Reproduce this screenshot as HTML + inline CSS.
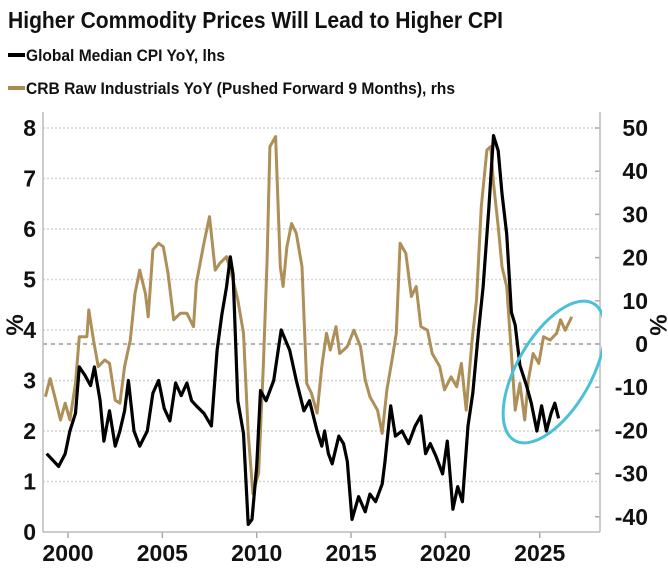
<!DOCTYPE html>
<html><head><meta charset="utf-8"><style>
html,body{margin:0;padding:0;background:#fff;}
svg{display:block;font-family:"Liberation Sans",sans-serif;}
</style></head><body>
<svg id="chart" width="668" height="575" viewBox="0 0 668 575">
<defs><clipPath id="plotclip"><rect x="0" y="100" width="602" height="440"/></clipPath></defs>
<text x="8" y="28" font-size="23" font-weight="bold" textLength="495" lengthAdjust="spacingAndGlyphs" fill="#111">Higher Commodity Prices Will Lead to Higher CPI</text>
<g>
<line x1="8" y1="55" x2="25" y2="55" stroke="#000" stroke-width="4"/>
<text x="26" y="61" font-size="17" font-weight="bold" textLength="199" lengthAdjust="spacingAndGlyphs" fill="#111">Global Median CPI YoY, lhs</text>
</g>
<g>
<line x1="8" y1="88" x2="25" y2="88" stroke="#a98a52" stroke-width="4"/>
<text x="26" y="94" font-size="17" font-weight="bold" textLength="429" lengthAdjust="spacingAndGlyphs" fill="#111">CRB Raw Industrials YoY (Pushed Forward 9 Months), rhs</text>
</g>
<g id="grid"></g>
<g id="axes"></g>
<g id="series"></g>
<g clip-path="url(#plotclip)">
<ellipse cx="554" cy="372" rx="79" ry="37" transform="rotate(-60 554 372)" fill="none" stroke="#4cc0d6" stroke-width="3"/>
</g>
</svg>
<script>
const cpiYears=[1998.87,1999.5,1999.85,2000.1,2000.4,2000.6,2000.9,2001.2,2001.4,2001.7,2001.9,2002.2,2002.5,2002.75,2003.0,2003.2,2003.5,2003.8,2004.2,2004.5,2004.8,2005.1,2005.4,2005.7,2006.0,2006.3,2006.55,2006.8,2007.2,2007.6,2007.9,2008.15,2008.4,2008.6,2008.75,2009.0,2009.3,2009.55,2009.75,2010.0,2010.2,2010.5,2010.9,2011.3,2011.75,2012.1,2012.5,2012.8,2013.2,2013.45,2013.6,2013.8,2014.0,2014.35,2014.6,2014.8,2015.05,2015.4,2015.75,2016.0,2016.3,2016.65,2016.8,2017.1,2017.35,2017.7,2018.05,2018.4,2018.7,2018.95,2019.2,2019.5,2019.85,2020.1,2020.4,2020.65,2020.9,2021.2,2021.45,2021.75,2022.0,2022.3,2022.55,2022.8,2023.0,2023.25,2023.5,2023.7,2023.95,2024.3,2024.55,2024.85,2025.1,2025.35,2025.6,2025.8,2026.0];
const cpiValues=[1.55,1.3,1.55,2.0,2.35,3.27,3.1,2.9,3.27,2.6,1.8,2.4,1.7,2.0,2.4,3.0,2.0,1.7,2.0,2.75,3.0,2.45,2.2,2.95,2.7,2.95,2.6,2.5,2.35,2.1,3.6,4.3,4.85,5.45,5.1,2.6,1.95,0.15,0.25,1.3,2.8,2.6,3.0,4.0,3.6,3.0,2.4,2.6,2.0,1.7,2.0,1.55,1.35,1.9,1.75,1.4,0.25,0.7,0.4,0.75,0.6,0.95,1.4,2.5,1.9,2.0,1.75,2.1,2.3,1.55,1.75,1.5,1.15,1.8,0.45,0.9,0.6,2.1,2.75,3.95,4.85,6.4,7.85,7.55,6.7,5.9,4.35,4.1,3.3,2.9,2.55,2.0,2.5,2.0,2.35,2.55,2.25];
const crbYears=[1998.8,1999.05,1999.3,1999.6,1999.85,2000.1,2000.4,2000.6,2001.0,2001.1,2001.35,2001.6,2001.95,2002.2,2002.5,2002.75,2003.0,2003.3,2003.55,2003.8,2004.1,2004.25,2004.5,2004.8,2005.05,2005.3,2005.6,2005.95,2006.3,2006.65,2006.8,2007.2,2007.5,2007.8,2008.05,2008.4,2008.75,2009.0,2009.3,2009.55,2009.8,2010.1,2010.35,2010.55,2010.7,2011.0,2011.25,2011.4,2011.6,2011.85,2012.1,2012.4,2012.65,2012.9,2013.2,2013.45,2013.7,2013.9,2014.2,2014.4,2014.8,2015.15,2015.5,2015.75,2016.0,2016.4,2016.65,2016.9,2017.2,2017.4,2017.6,2017.9,2018.2,2018.45,2018.7,2019.05,2019.3,2019.7,2019.95,2020.3,2020.6,2020.85,2021.1,2021.4,2021.65,2021.9,2022.2,2022.4,2022.55,2022.8,2023.0,2023.25,2023.5,2023.7,2023.95,2024.2,2024.4,2024.65,2024.95,2025.2,2025.55,2025.9,2026.1,2026.35,2026.7];
const crbValues=[-12.2,-8,-12.2,-17.6,-13.7,-17.6,-9.1,1.7,1.7,7.9,0.9,-5.2,-3.7,-4.5,-13,-13.7,-5.2,0.9,11.7,17.1,11.7,6.3,21.8,23.3,22.5,16.4,5.6,7.1,7.1,4.0,14,23.3,29.5,17.1,18.7,20.2,14.8,10.2,2.5,-20.7,-34.6,-29.9,-5.2,19.4,45.7,48,17.9,13.3,22.5,27.9,25.6,17.9,-9.1,-11.4,-16,-5.2,2.5,-1.4,4,-2.2,-0.6,3.2,-0.6,-8.3,-12.2,-15.3,-20.7,-10.6,-2.9,2.5,23.3,21,11,13.3,4,3.2,-2.2,-5.2,-10.6,-7.6,-9.9,-4.5,-15.3,0.2,10.2,31.8,44.9,45.7,37.2,27.2,17.9,13.3,-2.2,-15.3,-9.1,-17.6,-8.3,-2.2,-4.5,1.7,0.9,2.5,5.6,3.2,6.3];
const leftTicks=[0,1,2,3,4,5,6,7,8];
const rightTicks=[-40,-30,-20,-10,0,10,20,30,40,50];
const xTicks=[2000,2005,2010,2015,2020,2025];

const NS="http://www.w3.org/2000/svg";
const X0=43,X1=600,Y0=532;
const x=y=>68+(y-2000)*18.87;
const yL=v=>532-v*50.5;
const yR=v=>344-v*4.32;
function mk(tag,attrs,parent){const e=document.createElementNS(NS,tag);for(const k in attrs)e.setAttribute(k,attrs[k]);parent.appendChild(e);return e;}
const grid=document.getElementById('grid'),axes=document.getElementById('axes'),series=document.getElementById('series');
leftTicks.forEach(t=>{
  if(t>0){const g=mk('line',{x1:X0,x2:X1,y1:yL(t),y2:yL(t),stroke:'#d4d4d4','stroke-width':1.5,'stroke-dasharray':'2,2'},grid);
  
  }
  const tx=mk('text',{x:36,y:yL(t)+8,'font-size':23,'font-weight':'bold','text-anchor':'end',fill:'#111'},axes);
  tx.textContent=t;
  
  
});
rightTicks.forEach(t=>{
  mk('line',{x1:X1-5,x2:X1,y1:yR(t),y2:yR(t),stroke:'#aaa','stroke-width':1.5},axes);
  const tx=mk('text',{x:648,y:yR(t)+8,'font-size':23,'font-weight':'bold','text-anchor':'end',fill:'#111'},axes);
  tx.textContent=t;
  
  
});
const zl=mk('line',{x1:X0,x2:X1,y1:yR(0),y2:yR(0),stroke:'#999','stroke-width':1.5,'stroke-dasharray':'4,4'},grid);


xTicks.forEach(t=>{
  mk('line',{x1:x(t),x2:x(t),y1:Y0,y2:Y0+6,stroke:'#aaa','stroke-width':1.5},axes);
  const tx=mk('text',{x:x(t),y:561,'font-size':23,'font-weight':'bold','text-anchor':'middle',fill:'#111'},axes);
  tx.textContent=t;
  
  
});
mk('line',{x1:X0,x2:X0,y1:112,y2:Y0,stroke:'#bbb','stroke-width':1.5},axes);
mk('line',{x1:X1,x2:X1,y1:112,y2:Y0,stroke:'#bbb','stroke-width':1.5},axes);
mk('line',{x1:X0,x2:X1,y1:Y0,y2:Y0,stroke:'#bbb','stroke-width':1.5},axes);
const la=mk('text',{x:0,y:0,'font-size':24,'font-weight':'bold','text-anchor':'middle',fill:'#111',transform:'translate(23,325) rotate(-90)'},axes);
la.textContent='%';


const ra=mk('text',{x:0,y:0,'font-size':24,'font-weight':'bold','text-anchor':'middle',fill:'#111',transform:'translate(650,325) rotate(90)'},axes);
ra.textContent='%';


const crb=mk('polyline',{points:crbYears.map((y,i)=>x(y).toFixed(1)+','+yR(crbValues[i]).toFixed(1)).join(' '),fill:'none',stroke:'#ad8f57','stroke-width':3,'stroke-linejoin':'round'},series);


const cpi=mk('polyline',{points:cpiYears.map((y,i)=>x(y).toFixed(1)+','+yL(cpiValues[i]).toFixed(1)).join(' '),fill:'none',stroke:'#000','stroke-width':3.2,'stroke-linejoin':'round'},series);


</script>
</body></html>
